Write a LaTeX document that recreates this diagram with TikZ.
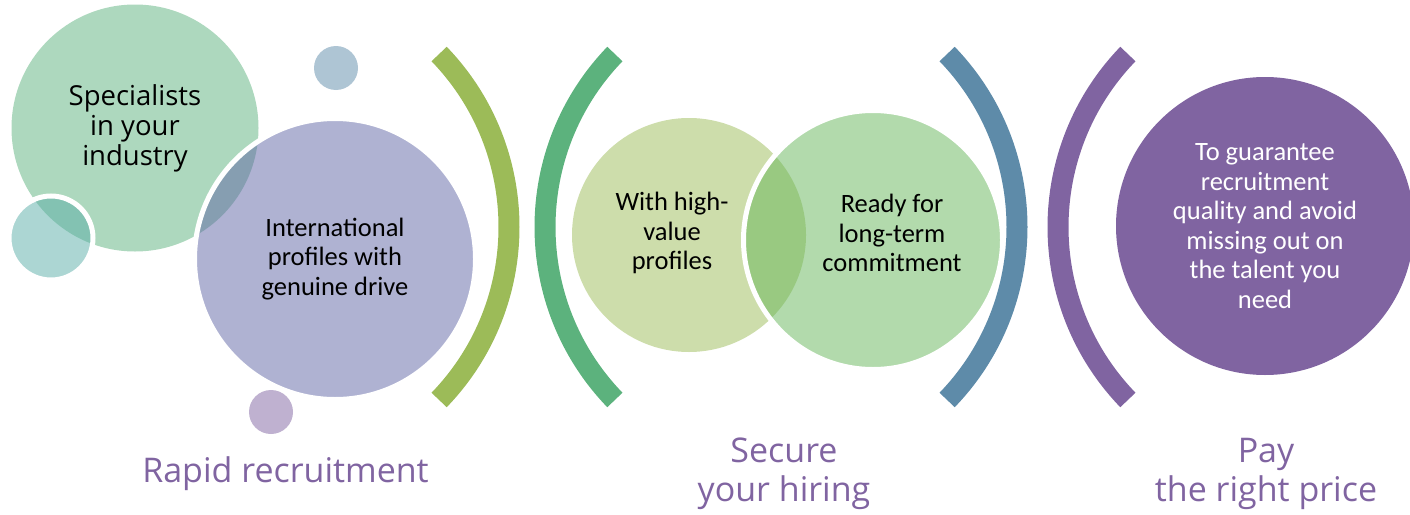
\documentclass[tikz,border=0pt]{standalone}
\usepackage{fontspec}
\setmainfont{Carlito}
\newfontfamily\titlefont{Open Sans}
\usepackage{tikz}
\definecolor{cMoss}{HTML}{9CBB58}
\definecolor{cLeaf}{HTML}{5CB27D}
\definecolor{cSteel}{HTML}{5E8BA9}
\definecolor{cPlum}{HTML}{8064A1}
\definecolor{cTeal}{HTML}{59ADA7}
\definecolor{cLavender}{HTML}{5F65A5}
\definecolor{cGrass}{HTML}{65B559}

\begin{document}
\begin{tikzpicture}[x=1pt, y=-1pt,
		disc/.style={circle, inner sep=0pt, fill opacity=0.5},
		rimdisc/.style={disc, draw=white, draw opacity=1, line width=5pt},
		bracket/.style={line width=21pt},
		body/.style={align=center, font=\fontsize{26.5}{29.5}\selectfont},
		heading/.style={align=center, text=cPlum, font=\titlefont\fontsize{34}{39}\selectfont}]
		\useasboundingbox (0,0) rectangle (1410,514);
		% first group
		\node[disc, fill=cLeaf, minimum size=247pt] (spec) at (135,128) {};
		\node[rimdisc, fill=cTeal, minimum size=84pt] (dotteal) at (51,238) {};
		\node[rimdisc, fill=cLavender, minimum size=281pt] (intl) at (335,259) {};
		\node[disc, fill=cSteel, minimum size=44pt] (dotsteel) at (336,68) {};
		\node[disc, fill=cPlum, minimum size=44pt] (dotplum) at (271,412) {};
		\node[align=center, font=\titlefont\fontsize{27.5}{30}\selectfont] (specT) at (spec.center) {Specialists\\in your\\industry};
		\node[body] (intlT) at (intl.center) {International\\profiles with\\genuine drive};
		% second group
		\node[disc, fill=cMoss, minimum size=234pt] (hival) at (689,235) {};
		\node[rimdisc, fill=cGrass, minimum size=259pt] (ready) at (873,240) {};
		\node[body] (hivalT) at (672,233) {With high-\\value\\profiles};
		\node[body] (readyT) at (892,233) {Ready for\\long-term\\commitment};
		% third group
		\node[circle, fill=cPlum, minimum size=298pt] (price) at (1265,226) {};
		\node[body, text=white] (priceT) at (price.center) {To guarantee\\recruitment\\quality and avoid\\missing out on\\the talent you\\need};
		% brackets
		\draw[bracket, cMoss] (260,227) ++(-44:249) arc[start angle=-44, end angle=44, radius=249];
		\draw[bracket, cLeaf] (794,227) ++(136:249) arc[start angle=136, end angle=224, radius=249];
		\draw[bracket, cSteel] (768,227) ++(-44:249) arc[start angle=-44, end angle=44, radius=249];
		\draw[bracket, cPlum] (1307,227) ++(136:249) arc[start angle=136, end angle=224, radius=249];
		% headings
		\node[heading, anchor=base] (rapid) at (285.5,482) {Rapid recruitment};
		\node[heading] (secure) at (784,474) {Secure\\your hiring};
		\node[heading] (pay) at (1266,474) {Pay\\the right price};
\end{tikzpicture}
\end{document}
